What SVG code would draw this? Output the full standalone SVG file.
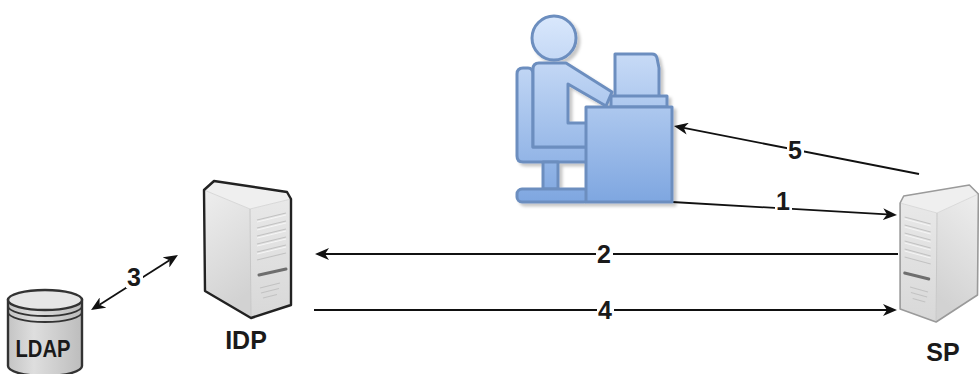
<svg xmlns="http://www.w3.org/2000/svg" xmlns:xlink="http://www.w3.org/1999/xlink" width="979" height="374" viewBox="0 0 979 374">
  <style>
    .lbl { font-family: "Liberation Sans", Arial, sans-serif; font-weight: bold; font-size: 25px; fill: #1a1a1a; text-anchor: middle; }
    .edge { fill: none; stroke: #111; stroke-width: 1.8; }
    .bg { fill: #ffffff; }
    .usr { fill: url(#userFill); stroke: #6c8ebf; stroke-width: 3; stroke-linejoin: round; }
    .vent { stroke: #c2c2c2; stroke-width: 1.1; }
    .vent-hi { stroke: #f6f6f6; stroke-width: 1; }
  </style>
  <defs>
    <linearGradient id="userFill" gradientUnits="userSpaceOnUse" x1="0" y1="15" x2="0" y2="203">
      <stop offset="0" stop-color="#dae8fc"/>
      <stop offset="1" stop-color="#7ea6e0"/>
    </linearGradient>
    <linearGradient id="sideFill" x1="0" y1="0" x2="0.3" y2="1">
      <stop offset="0" stop-color="#eeeeee"/>
      <stop offset="1" stop-color="#d2d2d2"/>
    </linearGradient>
    <linearGradient id="frontFill" x1="0" y1="0" x2="0" y2="1">
      <stop offset="0" stop-color="#e8e8e8"/>
      <stop offset="1" stop-color="#d8d8d8"/>
    </linearGradient>
    <linearGradient id="dbFill" x1="0" y1="0" x2="1" y2="0">
      <stop offset="0" stop-color="#c4c4c4"/>
      <stop offset="0.35" stop-color="#dedede"/>
      <stop offset="1" stop-color="#bdbdbd"/>
    </linearGradient>
    <filter id="shadow" x="-10%" y="-10%" width="130%" height="130%">
      <feDropShadow dx="3" dy="3" stdDeviation="1.5" flood-color="#000" flood-opacity="0.22"/>
    </filter>
    <marker id="arr" viewBox="0 0 14 12" markerUnits="userSpaceOnUse" markerWidth="14" markerHeight="12" refX="4" refY="6" orient="auto-start-reverse">
      <path d="M0,0 L14,6 L0,12 L4,6 Z" fill="#111"/>
    </marker>
    <!-- tower server, drawn in local coordinates -->
    <g id="tower">
      <polygon points="4,10 14,1 87,12 91,19 50,29" fill="#efefef"/>
      <polygon points="4,10 50,29 51,138 5,111" fill="url(#sideFill)"/>
      <polygon points="50,29 91,19 91,125 51,138" fill="url(#frontFill)"/>
      <g class="vent">
        <line x1="57" y1="40" x2="86" y2="33"/>
        <line x1="57" y1="48" x2="86" y2="41"/>
        <line x1="57" y1="56" x2="86" y2="49"/>
        <line x1="57" y1="64" x2="86" y2="57"/>
        <line x1="57" y1="72" x2="86" y2="65"/>
        <line x1="57" y1="80" x2="86" y2="73"/>
      </g>
      <g class="vent-hi">
        <line x1="57" y1="42" x2="86" y2="35"/>
        <line x1="57" y1="50" x2="86" y2="43"/>
        <line x1="57" y1="58" x2="86" y2="51"/>
        <line x1="57" y1="66" x2="86" y2="59"/>
        <line x1="57" y1="74" x2="86" y2="67"/>
      </g>
      <line x1="59" y1="95" x2="86" y2="89" stroke="#6e6e6e" stroke-width="3" stroke-linecap="round"/>
      <g class="vent">
        <line x1="60" y1="108" x2="80" y2="103"/>
        <line x1="61" y1="113" x2="79" y2="108.5"/>
        <line x1="63" y1="118" x2="77" y2="114.5"/>
      </g>
      <polyline points="4,10 50,29 91,19" fill="none" stroke="#d8d8d8" stroke-width="1"/>
      <line x1="50" y1="29" x2="51" y2="138" stroke="#c6c6c6" stroke-width="1"/>
    </g>
  </defs>

  <!-- connectors -->
  <g id="connectors">
    <line class="edge" x1="672" y1="202" x2="887" y2="214.4" marker-end="url(#arr)"/>
    <line class="edge" x1="898" y1="254" x2="325" y2="254" marker-end="url(#arr)"/>
    <line class="edge" x1="99.5" y1="304.7" x2="169.5" y2="260.3" marker-start="url(#arr)" marker-end="url(#arr)"/>
    <line class="edge" x1="314" y1="310" x2="887" y2="310" marker-end="url(#arr)"/>
    <line class="edge" x1="919" y1="174" x2="683.8" y2="127.9" marker-end="url(#arr)"/>

    <rect class="bg" x="775" y="191" width="17" height="22"/>
    <text class="lbl" x="783" y="210">1</text>
    <rect class="bg" x="596" y="243" width="17" height="22"/>
    <text class="lbl" x="604" y="263">2</text>
    <rect class="bg" x="126" y="266" width="17" height="22"/>
    <text class="lbl" x="134" y="286">3</text>
    <rect class="bg" x="597" y="299" width="17" height="22"/>
    <text class="lbl" x="605" y="319">4</text>
    <rect class="bg" x="787" y="139" width="17" height="22"/>
    <text class="lbl" x="795" y="159">5</text>
  </g>

  <!-- user at workstation -->
  <g id="user" filter="url(#shadow)">
    <circle class="usr" cx="554" cy="38" r="22"/>
    <path class="usr" d="M517,74 Q517,68 523,68 L528,68 Q533,68 533,74 L533,147 L589,147 L589,162 L523,162 Q517,162 517,156 Z"/>
    <rect class="usr" x="543" y="162" width="15" height="27"/>
    <rect class="usr" x="517" y="189" width="72" height="13" rx="5"/>
    <path class="usr" d="M533,69 Q533,63 539,63 L566,63 L612,92 L606,106 L568,84 L568,123 L590,123 L590,147 L533,147 Z"/>
    <path class="usr" d="M615,54 L652,54 Q656,54 657,58 L659,68 L659,97 L615,97 Z"/>
    <rect class="usr" x="611" y="96" width="56" height="11"/>
    <rect class="usr" x="586" y="107" width="86" height="95"/>
  </g>

  <!-- identity provider -->
  <g id="idp">
    <use xlink:href="#tower" transform="translate(200,180)"/>
    <polygon points="204,190 214,181 287,192 291,199 291,305 251,318 205,291" fill="none" stroke="#222" stroke-width="2.4" stroke-linejoin="round"/>
    <text class="lbl" x="246" y="349">IDP</text>
  </g>

  <!-- service provider -->
  <g id="sp">
    <use xlink:href="#tower" transform="translate(982,184) scale(-0.9,1)"/>
    <polygon points="978.4,194 969.4,185 903.7,196 900.1,203 900.1,309 936.1,322 977.5,295" fill="none" stroke="#9a9a9a" stroke-width="1.6" stroke-linejoin="round"/>
    <text class="lbl" x="943" y="361">SP</text>
  </g>

  <!-- directory store -->
  <g id="ldap">
    <path d="M8,300 L8,366 A37,10 0 0 0 82,366 L82,300 Z" fill="url(#dbFill)" stroke="#333" stroke-width="2.4"/>
    <ellipse cx="45" cy="300" rx="37" ry="10" fill="#e6e6e6" stroke="#333" stroke-width="2.4"/>
    <path d="M8,306 A37,10 0 0 0 82,306" fill="none" stroke="#333" stroke-width="1.8"/>
    <path d="M8,312 A37,10 0 0 0 82,312" fill="none" stroke="#333" stroke-width="1.8"/>
    <text class="lbl" x="43" y="357" textLength="55" lengthAdjust="spacingAndGlyphs" style="font-size:23px">LDAP</text>
  </g>
</svg>
